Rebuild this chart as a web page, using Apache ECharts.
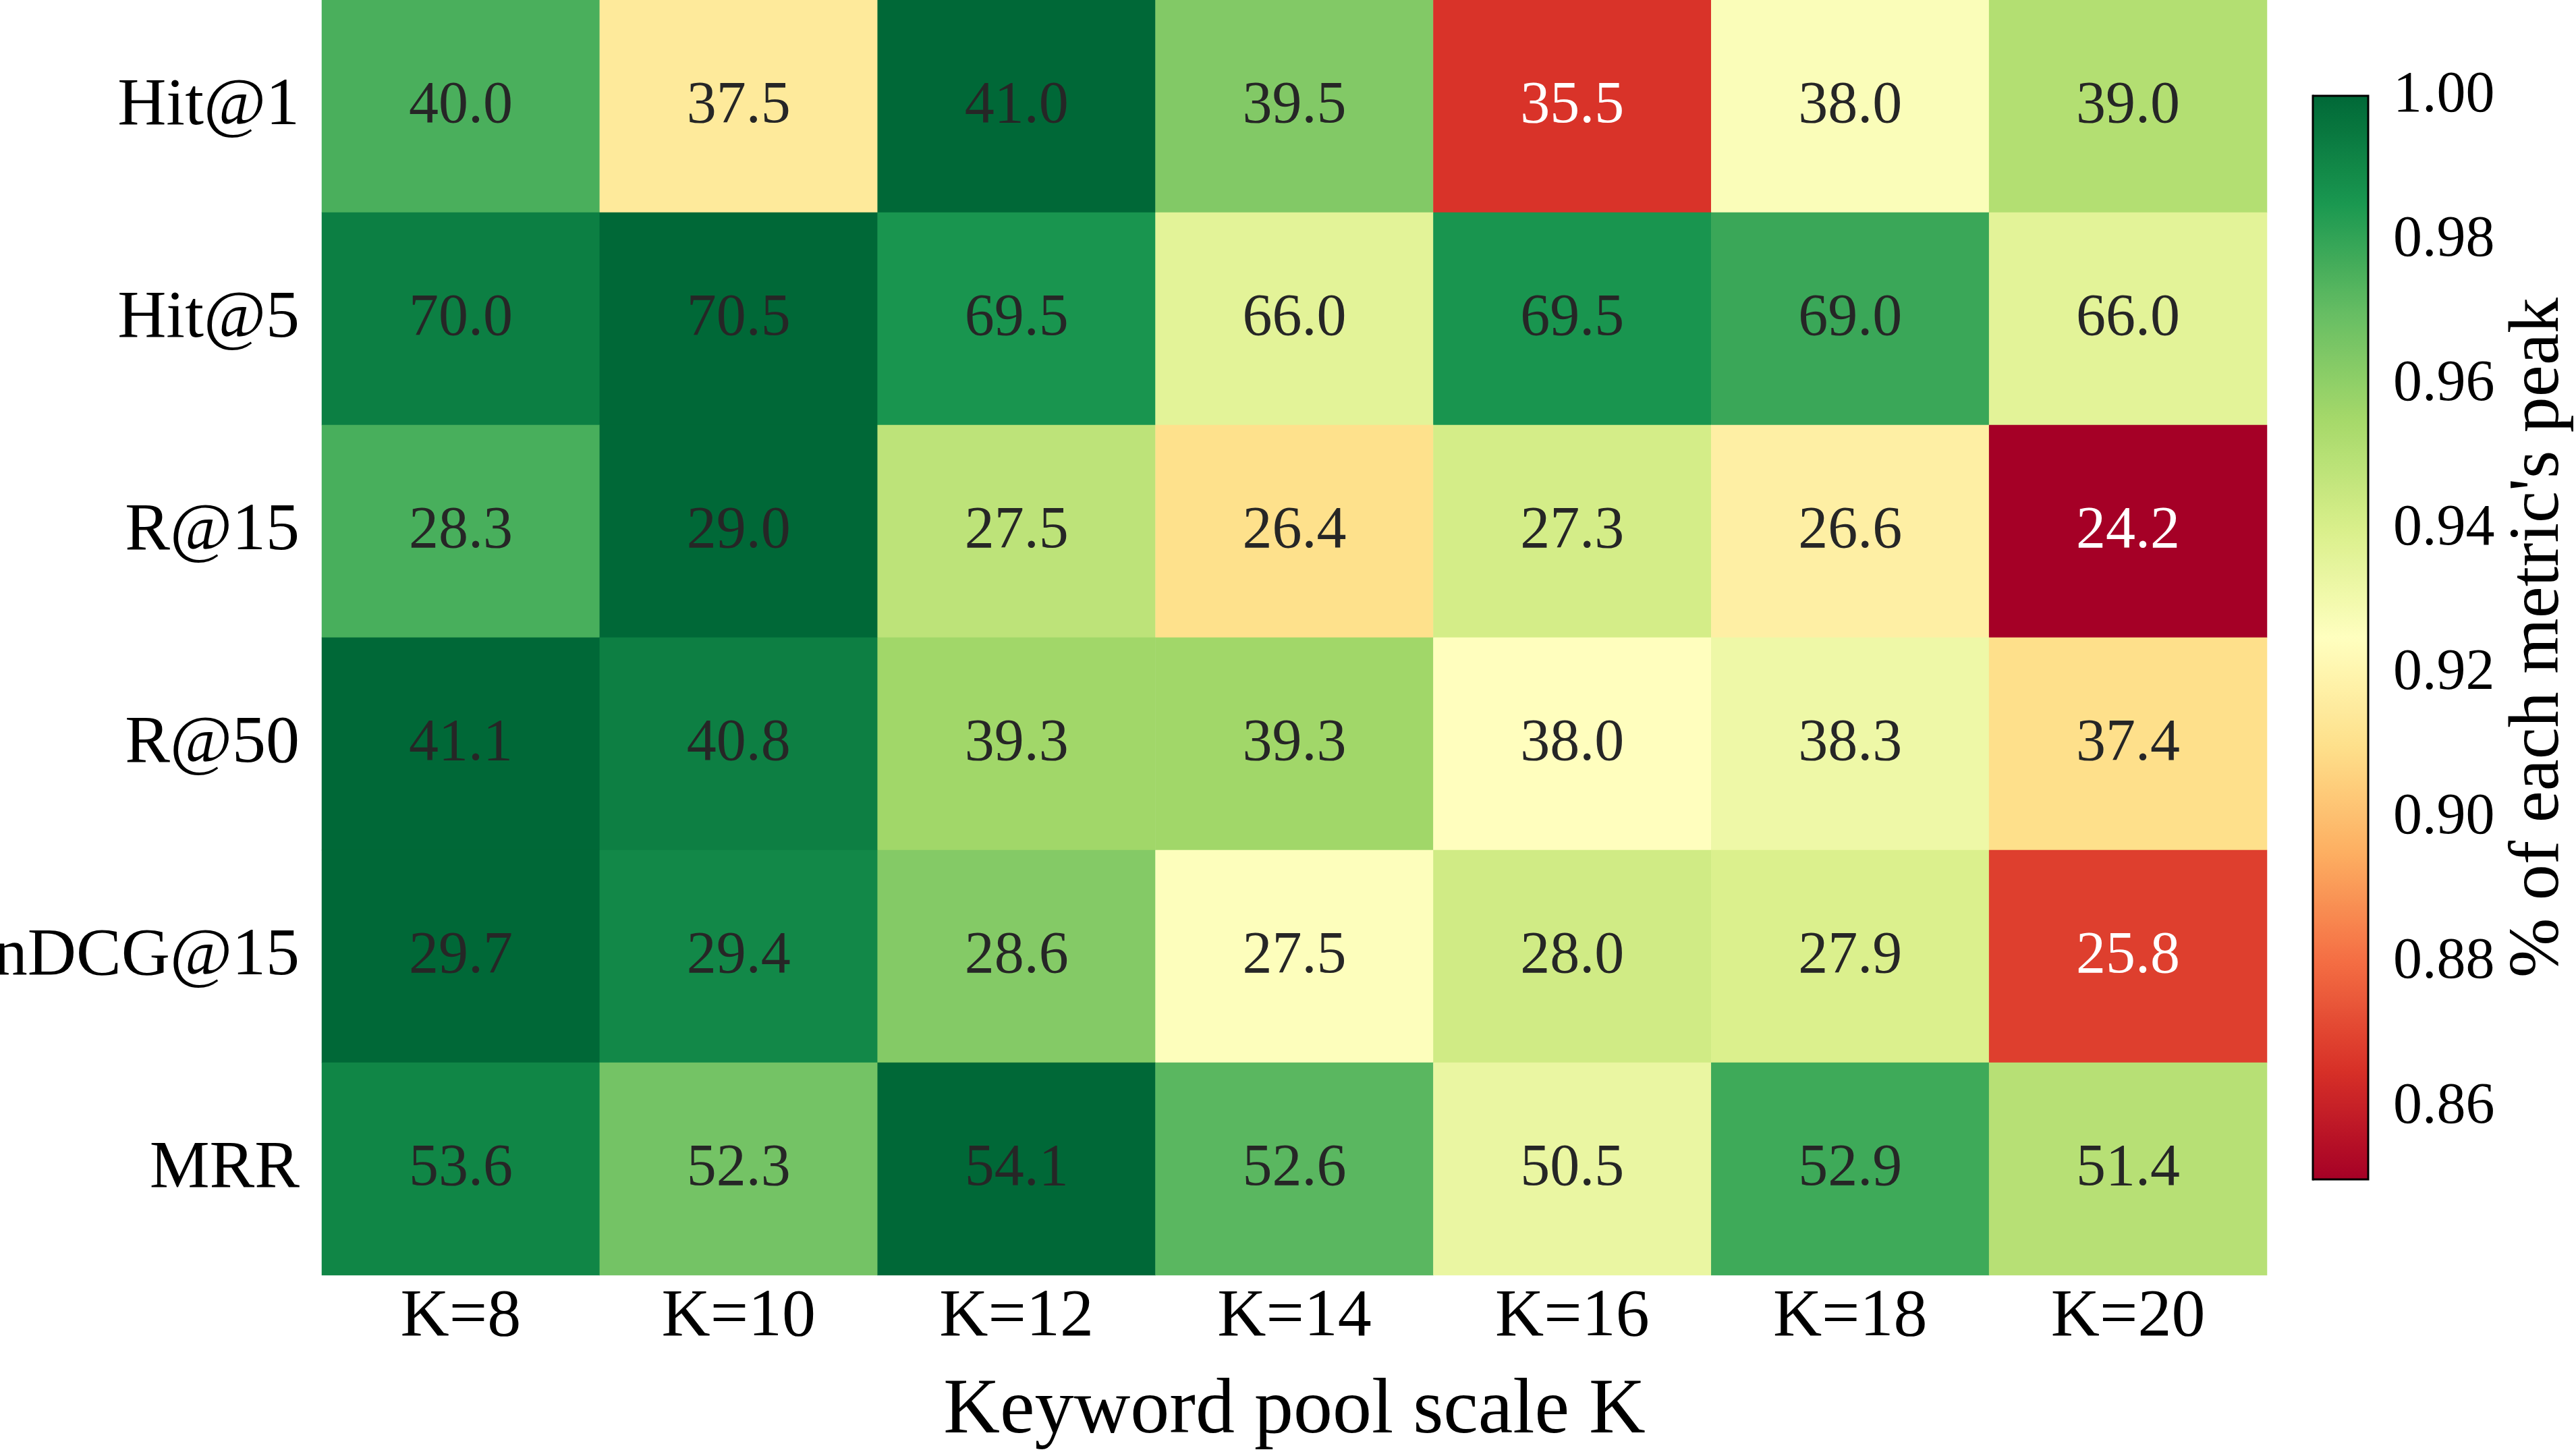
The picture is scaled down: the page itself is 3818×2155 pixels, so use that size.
<!DOCTYPE html>
<html>
<head>
<meta charset="utf-8">
<script src="https://cdn.jsdelivr.net/npm/echarts@6/dist/echarts.min.js"></script>
<style>
  html, body { margin: 0; padding: 0; background: #fff; }
  #chart { width: 3818px; height: 2155px; }
</style>
</head>
<body>
<div id="chart"></div>
<script>
var kLabels = ['K=8', 'K=10', 'K=12', 'K=14', 'K=16', 'K=18', 'K=20'];
var metrics = ['Hit@1', 'Hit@5', 'R@15', 'R@50', 'nDCG@15', 'MRR'];

var hit1   = [40.0, 37.5, 41.0, 39.5, 35.5, 38.0, 39.0];
var hit5   = [70.0, 70.5, 69.5, 66.0, 69.5, 69.0, 66.0];
var r15    = [28.3, 29.0, 27.5, 26.4, 27.3, 26.6, 24.2];
var r50    = [41.1, 40.8, 39.3, 39.3, 38.0, 38.3, 37.4];
var ndcg15 = [29.7, 29.4, 28.6, 27.5, 28.0, 27.9, 25.8];
var mrr    = [53.6, 52.3, 54.1, 52.6, 50.5, 52.9, 51.4];

var colorTicks = [0.86, 0.88, 0.90, 0.92, 0.94, 0.96, 0.98, 1.00];

var rows = [hit1, hit5, r15, r50, ndcg15, mrr];
var font = '"Liberation Serif", "Times New Roman", serif';

// RdYlGn
var rdylgn = ['#a50026', '#d73027', '#f46d43', '#fdae61', '#fee08b', '#ffffbf',
              '#d9ef8b', '#a6d96a', '#66bd63', '#1a9850', '#006837'];

// each cell coloured by share of its row's best value
var cells = [];
rows.forEach(function (row, y) {
    var peak = Math.max.apply(null, row);
    row.forEach(function (v, x) {
        var r = v / peak;
        cells.push({
            value: [x, y, r, v],
            label: { color: r < 0.88 ? '#ffffff' : '#262626' }
        });
    });
});

var myChart = echarts.init(document.getElementById('chart'));

myChart.setOption({
    backgroundColor: '#fff',
    animation: false,
    textStyle: { fontFamily: font },
    grid: [
        { left: 477, right: 458, top: 0, bottom: 265, outerBoundsMode: 'none', containLabel: false },
        { left: 3428, top: 142, width: 82, height: 1606, outerBoundsMode: 'none',
          show: true, borderColor: '#000', borderWidth: 3, z: 10,
          backgroundColor: 'transparent' }
    ],
    xAxis: [
        {
            type: 'category',
            data: kLabels,
            gridIndex: 0,
            axisLine: { show: false },
            axisTick: { show: false },
            splitArea: { show: false },
            axisLabel: { fontFamily: font, fontSize: 100, color: '#000', margin: 13 },
            name: 'Keyword pool scale K',
            nameLocation: 'middle',
            nameGap: 145,
            nameTextStyle: { fontFamily: font, fontSize: 116, color: '#000' }
        },
        { type: 'value', gridIndex: 1, show: false, min: 0, max: 1 }
    ],
    yAxis: [
        {
            type: 'category',
            data: metrics,
            inverse: true,
            gridIndex: 0,
            axisLine: { show: false },
            axisTick: { show: false },
            axisLabel: { fontFamily: font, fontSize: 100, color: '#000', margin: 33 }
        },
        {
            type: 'value',
            gridIndex: 1,
            position: 'right',
            min: 0.85,
            max: 1.0,
            splitLine: { show: false },
            axisLine: { show: true, lineStyle: { color: '#000', width: 3 } },
            axisTick: {
                show: true, inside: false, length: 14,
                customValues: colorTicks,
                lineStyle: { color: '#000', width: 3 }
            },
            axisLabel: {
                fontFamily: font, fontSize: 86, color: '#000', margin: 37,
                customValues: colorTicks,
                formatter: function (v) { return v.toFixed(2); }
            },
            name: "% of each metric's peak",
            nameLocation: 'middle',
            nameRotate: 90,
            nameGap: 200,
            nameTextStyle: { fontFamily: font, fontSize: 106, color: '#000' }
        }
    ],
    visualMap: {
        type: 'continuous',
        seriesIndex: 0,
        dimension: 2,
        min: 0.85,
        max: 1.0,
        calculable: false,
        orient: 'vertical',
        left: 3428,
        top: 142,
        padding: 0,
        itemWidth: 82,
        itemHeight: 1606,
        inRange: { color: rdylgn },
        outOfRange: { color: rdylgn }
    },
    series: [{
        type: 'heatmap',
        xAxisIndex: 0,
        yAxisIndex: 0,
        data: cells,
        itemStyle: { borderWidth: 0 },
        label: {
            show: true,
            fontFamily: font,
            fontSize: 88,
            formatter: function (p) { return p.value[3].toFixed(1); }
        },
        emphasis: { disabled: true }
    }]
});
</script>
</body>
</html>
